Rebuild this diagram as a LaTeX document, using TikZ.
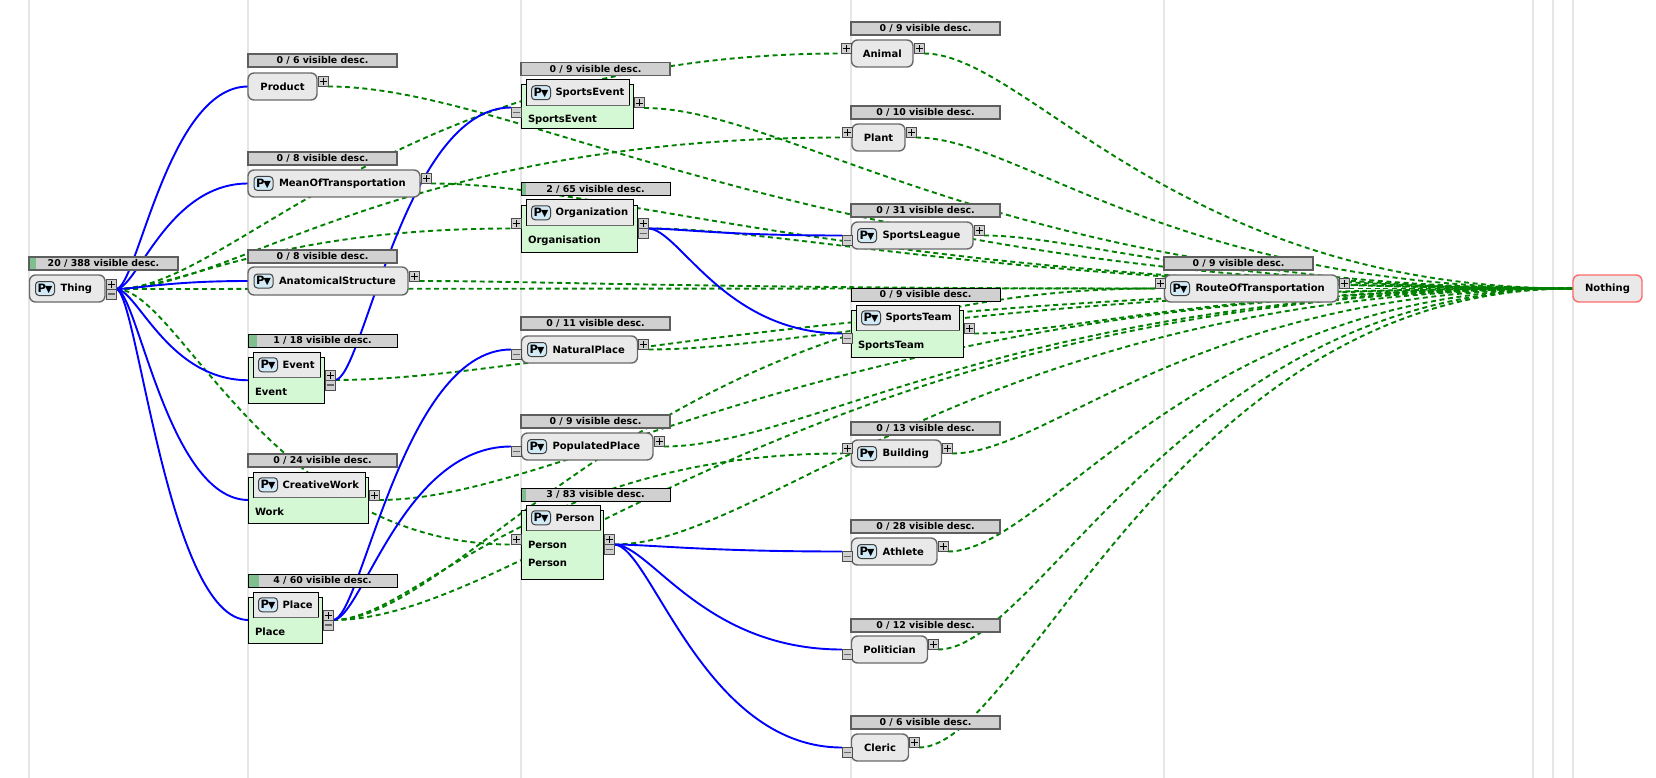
\documentclass[tikz,border=0pt]{standalone}
\usepackage{fontspec}
\setmainfont{DejaVu Sans}
\usetikzlibrary{calc}
\pgfdeclarelayer{lanes}
\pgfdeclarelayer{links}
\pgfsetlayers{lanes,links,main}
\definecolor{lanecol}{HTML}{E6E6E6}
\definecolor{boxfill}{HTML}{E9E9E9}
\definecolor{boxline}{HTML}{6A6A6A}
\definecolor{hdrfill}{HTML}{D0D0D0}
\definecolor{hdrline}{HTML}{5E5E5E}
\definecolor{progcol}{HTML}{7FBF8F}
\definecolor{greenfill}{HTML}{D4F7D4}
\definecolor{iconfill}{HTML}{D2EAF6}
\definecolor{linkgreen}{HTML}{008000}
\definecolor{redline}{HTML}{FF6B6B}
\tikzset{
  x=1pt,y=-1pt,
  lane/.style={draw=lanecol,line width=2pt},
  plainbox/.style={rectangle,rounded corners=6pt,draw=boxline,line width=1.4pt,fill=boxfill,inner sep=0pt,outer sep=0pt,anchor=north west,font=\fontsize{10}{12}\selectfont\bfseries},
  redbox/.style={plainbox,draw=redline},
  greenbox/.style={rectangle,draw=black,line width=1pt,fill=greenfill,inner sep=0pt,outer sep=0pt,anchor=north west},
  innerbox/.style={rectangle,draw=black,line width=1pt,fill=boxfill,inner sep=0pt,outer sep=0pt,anchor=north west},
  innerbtm/.style={draw=boxline,line width=1pt},
  hdrbox/.style={rectangle,draw=hdrline,line width=1.2pt,fill=hdrfill,inner sep=0pt,outer sep=0pt,anchor=north west,minimum width=149pt,minimum height=13pt,font=\fontsize{9.4}{12}\selectfont\bfseries},
  hdrdark/.style={hdrbox,draw=black,line width=1pt},
  iconbox/.style={rectangle,rounded corners=3.5pt,draw=black!75,line width=1pt,fill=iconfill,inner sep=0pt,outer sep=0pt,minimum width=19pt,minimum height=14pt,anchor=west},
  txt/.style={inner sep=0pt,outer sep=0pt,font=\fontsize{10}{12}\selectfont\bfseries},
  hdrtxt/.style={inner sep=0pt,outer sep=0pt,font=\fontsize{9.4}{12}\selectfont\bfseries},
  btn/.style={rectangle,draw=black!70,line width=1pt,fill=hdrfill,inner sep=0pt,outer sep=0pt,minimum width=10pt,minimum height=10pt,anchor=north west},
  sgnplus/.style={draw=black,line width=.8pt},
  sgnminus/.style={draw=black!60,line width=1.2pt},
  bluelink/.style={draw=blue,line width=1.9pt},
  greenlink/.style={draw=linkgreen,line width=1.9pt,dash pattern=on 5pt off 3.6pt},
}
\newcommand\icontxt{{\fontsize{11.5}{11}\selectfont\bfseries P\kern-1pt{\fontsize{9.5}{8}\selectfont ▼}}}
% name x y w h text
\newcommand\ibox[6]{%
  \node[plainbox,minimum width=#4pt,minimum height=#5pt] (#1) at (#2,#3) {};
  \node[iconbox] (#1C) at ([xshift=6pt]#1.west) {\icontxt};
  \node[txt,anchor=west] (#1T) at ([xshift=6pt]#1C.east) {#6};}
\newcommand\tbox[6]{%
  \node[plainbox,minimum width=#4pt,minimum height=#5pt] (#1) at (#2,#3) {#6};}
% name x y w h innerw title label
\newcommand\gbox[8]{%
  \node[greenbox,minimum width=#4pt,minimum height=#5pt] (#1) at (#2,#3) {};
  \node[innerbox,minimum width=#6pt,minimum height=25.5pt] (#1N) at ([shift={(5pt,5pt)}]#1.north west) {};
  \draw[innerbtm] (#1N.south west) -- (#1N.south east);
  \node[iconbox] (#1C) at ([xshift=5pt]#1N.west) {\icontxt};
  \node[txt,anchor=west] (#1T) at ([xshift=5pt]#1C.east) {#7};
  \node[txt,anchor=base west] (#1G) at ([shift={(6.5pt,-38pt)}]#1.north west) {#8};}
% name x y text
\newcommand\hdr[4]{\node[hdrbox] (#1H) at (#2,#3) {#4};}
\newcommand\hdrk[6]{\node[#6] (#1H) at (#2,#3) {};
  \fill[progcol] (#1H.north west) rectangle ([xshift=#5pt]#1H.south west);
  \draw[#6,fill=none] (#1H.north west) rectangle (#1H.south east);
  \node[hdrtxt] (#1W) at (#1H.center) {#4};}
\newcommand\plusbtn[3]{\node[btn] (#1) at (#2,#3) {};
  \draw[sgnplus] ([xshift=-3.5pt]#1.center) -- ([xshift=3.5pt]#1.center) ([yshift=-3.5pt]#1.center) -- ([yshift=3.5pt]#1.center);}
\newcommand\minusbtn[3]{\node[btn] (#1) at (#2,#3) {};
  \draw[sgnminus] ([xshift=-3.5pt]#1.center) -- ([xshift=3.5pt]#1.center);}
% style, from, to
\newcommand\lnk[3]{\draw[#1] let \p1=(#2),\p2=(#3),\n1={\x2-\x1} in (#2) .. controls ({\x1+0.16*\n1},\y1) and ({\x1+0.39*\n1},\y2) .. (#3);}
\newcommand\bl[2]{\lnk{bluelink}{#1}{#2}}
\newcommand\gr[2]{\lnk{greenlink}{#1}{#2}}
\begin{document}
\begin{tikzpicture}
\useasboundingbox (0,0) rectangle (1656,778);
% nodes
\ibox{thing}{29.5}{275}{75.5}{27}{Thing}
\hdrk{thing}{29}{257}{20 / 388 visible desc.}{7}{hdrbox}
\plusbtn{thingP}{106}{279}\minusbtn{thingM}{106}{289}

\tbox{product}{248}{73}{69}{27}{Product}
\hdr{product}{248}{54}{0 / 6 visible desc.}
\plusbtn{productP}{318}{76.5}

\ibox{mean}{248}{170}{172}{27}{MeanOfTransportation}
\hdr{mean}{248}{152}{0 / 8 visible desc.}
\plusbtn{meanP}{421}{173.5}

\ibox{anat}{248}{267}{160}{28}{AnatomicalStructure}
\hdr{anat}{248}{250}{0 / 8 visible desc.}
\plusbtn{anatP}{409.5}{271}

\gbox{event}{248.5}{357}{76}{46.5}{67}{Event}{Event}
\hdrk{event}{248}{334}{1 / 18 visible desc.}{8.5}{hdrdark}
\plusbtn{eventP}{325}{370}\minusbtn{eventM}{325}{380}

\gbox{creat}{248.5}{477}{120}{46}{112}{CreativeWork}{Work}
\hdr{creat}{248}{454}{0 / 24 visible desc.}
\plusbtn{creatP}{369}{490}

\gbox{place}{248.5}{597}{74}{46}{65}{Place}{Place}
\hdrk{place}{248}{574}{4 / 60 visible desc.}{11}{hdrdark}
\plusbtn{placeP}{323}{610}\minusbtn{placeM}{323}{620}

\gbox{sevent}{521.5}{85}{112}{44}{103}{SportsEvent}{SportsEvent}
\hdr{sevent}{521}{62.5}{0 / 9 visible desc.}
\minusbtn{seventL}{511}{107.5}\plusbtn{seventP}{634}{98}

\gbox{org}{521.5}{205}{116}{47}{107}{Organization}{Organisation}
\hdrk{org}{521}{182.5}{2 / 65 visible desc.}{5}{hdrdark}
\plusbtn{orgL}{511}{218.5}\plusbtn{orgP}{638}{218.5}\minusbtn{orgM}{638}{228.5}

\ibox{nat}{521.5}{336}{116}{27}{NaturalPlace}
\hdr{nat}{521}{317}{0 / 11 visible desc.}
\minusbtn{natL}{511}{349.5}\plusbtn{natP}{638.5}{339.5}

\ibox{pop}{521.5}{433}{131.5}{27}{PopulatedPlace}
\hdr{pop}{521}{415}{0 / 9 visible desc.}
\minusbtn{popL}{511}{446.5}\plusbtn{popP}{654}{436.5}

\gbox{person}{521.5}{510}{81.5}{69}{74}{Person}{Person}
\node[txt,anchor=base west] (personG2) at ([shift={(6.5pt,-56pt)}]person.north west) {Person};
\hdrk{person}{521}{488}{3 / 83 visible desc.}{5}{hdrdark}
\plusbtn{personL}{511}{534.5}\plusbtn{personP}{604}{534.5}\minusbtn{personM}{604}{544.5}

\tbox{animal}{851.5}{40}{61.5}{27}{Animal}
\hdr{animal}{851}{22}{0 / 9 visible desc.}
\plusbtn{animalL}{841.5}{43.5}\plusbtn{animalP}{914}{43.5}

\tbox{plant}{852}{124}{53}{27}{Plant}
\hdr{plant}{851}{106}{0 / 10 visible desc.}
\plusbtn{plantL}{842}{127.5}\plusbtn{plantP}{906}{127.5}

\ibox{league}{851.5}{222}{121.5}{27}{SportsLeague}
\hdr{league}{851}{204}{0 / 31 visible desc.}
\minusbtn{leagueL}{842}{235.5}\plusbtn{leagueP}{974}{225.5}

\gbox{team}{851.5}{310}{112}{47}{103}{SportsTeam}{SportsTeam}
\node[hdrdark] (teamH) at (851,288) {0 / 9 visible desc.};
\minusbtn{teamL}{842}{333.5}\plusbtn{teamP}{964}{323.5}

\ibox{build}{851.5}{440}{90}{27}{Building}
\hdr{build}{851}{422}{0 / 13 visible desc.}
\plusbtn{buildL}{842}{443.5}\plusbtn{buildP}{942}{443.5}

\ibox{ath}{851.5}{538}{85.5}{27}{Athlete}
\hdr{ath}{851}{520}{0 / 28 visible desc.}
\minusbtn{athL}{842}{551.5}\plusbtn{athP}{938}{541.5}

\tbox{pol}{851.5}{636}{76}{27}{Politician}
\hdr{pol}{851}{619}{0 / 12 visible desc.}
\minusbtn{polL}{842}{649.5}\plusbtn{polP}{928}{639.5}

\tbox{cleric}{851.5}{734}{57}{27}{Cleric}
\hdr{cleric}{851}{716}{0 / 6 visible desc.}
\minusbtn{clericL}{842}{747.5}\plusbtn{clericP}{909}{737.5}

\ibox{route}{1164.5}{275}{173.5}{27}{RouteOfTransportation}
\hdr{route}{1164}{257}{0 / 9 visible desc.}
\plusbtn{routeL}{1155}{278.5}\plusbtn{routeP}{1339}{278.5}

\node[redbox,minimum width=69pt,minimum height=27pt] (nothing) at (1573,275) {Nothing};

\begin{pgfonlayer}{lanes}
\fill[white] (0,0) rectangle (1656,778);
\foreach \lx in {29,248,521,851,1164,1533,1553,1573} \draw[lane] (\lx,0) -- (\lx,778);
\end{pgfonlayer}
\begin{pgfonlayer}{links}
% green links
\gr{thingP.south east}{animalL.south west}
\gr{thingP.south east}{plantL.south west}
\gr{thingP.south east}{orgL.south west}
\gr{thingP.south east}{routeL.south west}
\gr{thingP.south east}{personL.south west}
\gr{productP.south east}{nothing.west}
\gr{meanP.south east}{nothing.west}
\gr{anatP.south east}{routeL.south west}
\gr{eventP.south east}{nothing.west}
\gr{creatP.south east}{nothing.west}
\gr{placeP.south east}{buildL.south west}
\gr{placeP.south east}{routeL.south west}
\gr{placeP.south east}{nothing.west}
\gr{seventP.south east}{nothing.west}
\gr{orgP.south east}{nothing.west}
\gr{natP.south east}{nothing.west}
\gr{popP.south east}{nothing.west}
\gr{personP.south east}{nothing.west}
\gr{animalP.south east}{nothing.west}
\gr{plantP.south east}{nothing.west}
\gr{leagueP.south east}{nothing.west}
\gr{teamP.south east}{nothing.west}
\gr{buildP.south east}{nothing.west}
\gr{athP.south east}{nothing.west}
\gr{polP.south east}{nothing.west}
\gr{clericP.south east}{nothing.west}
\gr{routeP.south east}{nothing.west}
% blue links
\bl{thingP.south east}{product.west}
\bl{thingP.south east}{mean.west}
\bl{thingP.south east}{anat.west}
\bl{thingP.south east}{event.west}
\bl{thingP.south east}{creat.west}
\bl{thingP.south east}{place.west}
\bl{eventP.south east}{seventL.north west}
\bl{placeP.south east}{natL.north west}
\bl{placeP.south east}{popL.north west}
\bl{orgP.south east}{leagueL.north west}
\bl{orgP.south east}{teamL.north west}
\bl{personP.south east}{athL.north west}
\bl{personP.south east}{polL.north west}
\bl{personP.south east}{clericL.north west}
\end{pgfonlayer}
\end{tikzpicture}
\end{document}
